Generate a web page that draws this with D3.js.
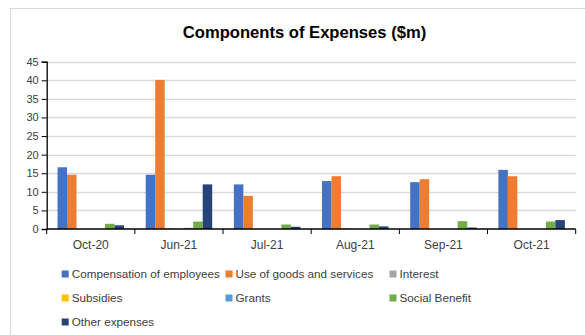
<!DOCTYPE html>
<html>
<head>
<meta charset="utf-8">
<script src="https://cdn.jsdelivr.net/npm/d3@7"></script>
<style>
  body { margin: 0; background: #fff; }
  text { font-family: "Liberation Sans", Arial, sans-serif; fill: #404040; }
</style>
</head>
<body>
<div id="viz"></div>
<script>
// categories + series values
const categories = ["Oct-20", "Jun-21", "Jul-21", "Aug-21", "Sep-21", "Oct-21"];
const seriesNames = ["Compensation of employees", "Use of goods and services", "Interest",
  "Subsidies", "Grants", "Social Benefit", "Other expenses"];
const compensation = [16.6, 14.6, 12.0, 12.9, 12.6, 15.9];
const goodsServices = [14.6, 40.1, 8.9, 14.2, 13.4, 14.2];
const interest = [0, 0.2, 0, 0.2, 0, 0];
const subsidies = [0, 0, 0, 0, 0, 0];
const grants = [0, 0.3, 0, 0, 0, 0];
const socialBenefit = [1.4, 2.0, 1.2, 1.2, 2.1, 2.0];
const otherExpenses = [1.0, 12.0, 0.6, 0.7, 0.4, 2.4];
const yTicks = [0, 5, 10, 15, 20, 25, 30, 35, 40, 45];

const seriesValues = [compensation, goodsServices, interest, subsidies, grants, socialBenefit, otherExpenses];
const colors = ["#4472C4", "#ED7D31", "#A5A5A5", "#FFC000", "#5B9BD5", "#70AD47", "#264478"];

const W = 585, H = 335;
const plot = { left: 46.7, right: 575.7, top: 61.7, bottom: 229 };

const svg = d3.select("#viz").append("svg")
  .attr("width", W).attr("height", H);

// chart area border (only left/top visible in the crop)
svg.append("rect")
  .attr("x", 10.5).attr("y", 8.5)
  .attr("width", 700).attr("height", 400)
  .attr("fill", "#fff").attr("stroke", "#d9d9d9");

// title
svg.append("text")
  .attr("x", 304.5).attr("y", 38)
  .attr("text-anchor", "middle")
  .style("font-size", "16.6px").style("font-weight", "bold")
  .style("fill", "#000")
  .text("Components of Expenses ($m)");

const x0 = d3.scaleBand().domain(categories).range([plot.left, plot.right]).padding(0);
const x1 = d3.scaleBand().domain(seriesNames).range([0, x0.bandwidth()])
  .paddingInner(0).paddingOuter(1.14);
const y = d3.scaleLinear().domain([0, 45]).range([plot.bottom, plot.top]);

// gridlines
svg.append("g").selectAll("line")
  .data(yTicks.filter(d => d > 0))
  .join("line")
  .attr("x1", plot.left).attr("x2", plot.right)
  .attr("y1", d => Math.round(y(d)) + 0.5).attr("y2", d => Math.round(y(d)) + 0.5)
  .attr("stroke", "#d9d9d9").attr("stroke-width", 1.3);

// bars
const groups = svg.append("g").selectAll("g")
  .data(seriesNames)
  .join("g")
  .attr("fill", (d, i) => colors[i]);

groups.selectAll("rect")
  .data((s, si) => categories.map((c, ci) => ({ cat: c, s: s, v: seriesValues[si][ci] })))
  .join("rect")
  .attr("x", d => x0(d.cat) + x1(d.s))
  .attr("width", x1.bandwidth())
  .attr("y", d => y(d.v))
  .attr("height", d => y(0) - y(d.v));

// y axis
const yAxis = svg.append("g")
  .attr("transform", `translate(${plot.left},0)`)
  .call(d3.axisLeft(y).tickValues(yTicks).tickSize(5).tickPadding(3));
yAxis.select(".domain").attr("stroke", "#000").attr("stroke-width", 1.3);
yAxis.selectAll(".tick line").attr("stroke", "#000");
yAxis.selectAll(".tick text").style("font-size", "11px").style("fill", "#404040")
  .style("font-family", "Liberation Sans, Arial, sans-serif");

// x axis: ticks at category boundaries
const xAxis = svg.append("g").attr("transform", `translate(0,${plot.bottom})`);
xAxis.append("line")
  .attr("x1", plot.left).attr("x2", plot.right)
  .attr("stroke", "#000").attr("stroke-width", 1.3);
xAxis.selectAll("line.tk")
  .data(categories.concat(["end"]))
  .join("line").attr("class", "tk")
  .attr("x1", (d, i) => i < categories.length ? x0(d) : plot.right)
  .attr("x2", (d, i) => i < categories.length ? x0(d) : plot.right)
  .attr("y1", 0).attr("y2", 5)
  .attr("stroke", "#000");
xAxis.selectAll("text")
  .data(categories)
  .join("text")
  .attr("x", d => x0(d) + x0.bandwidth() / 2)
  .attr("y", 20)
  .attr("text-anchor", "middle")
  .style("font-size", "12px")
  .text(d => d);

// legend
const legendCols = [61.7, 225.5, 389.5];
const legendRows = [274, 298, 322];
const legend = svg.append("g").selectAll("g")
  .data(seriesNames)
  .join("g")
  .attr("transform", (d, i) => `translate(${legendCols[i % 3]},${legendRows[Math.floor(i / 3)]})`);
legend.append("rect")
  .attr("x", 0).attr("y", -3.5)
  .attr("width", 7).attr("height", 7)
  .attr("fill", (d, i) => colors[i]);
legend.append("text")
  .attr("x", 10).attr("y", 4.3)
  .style("font-size", "11.7px")
  .text(d => d);
</script>
</body>
</html>
